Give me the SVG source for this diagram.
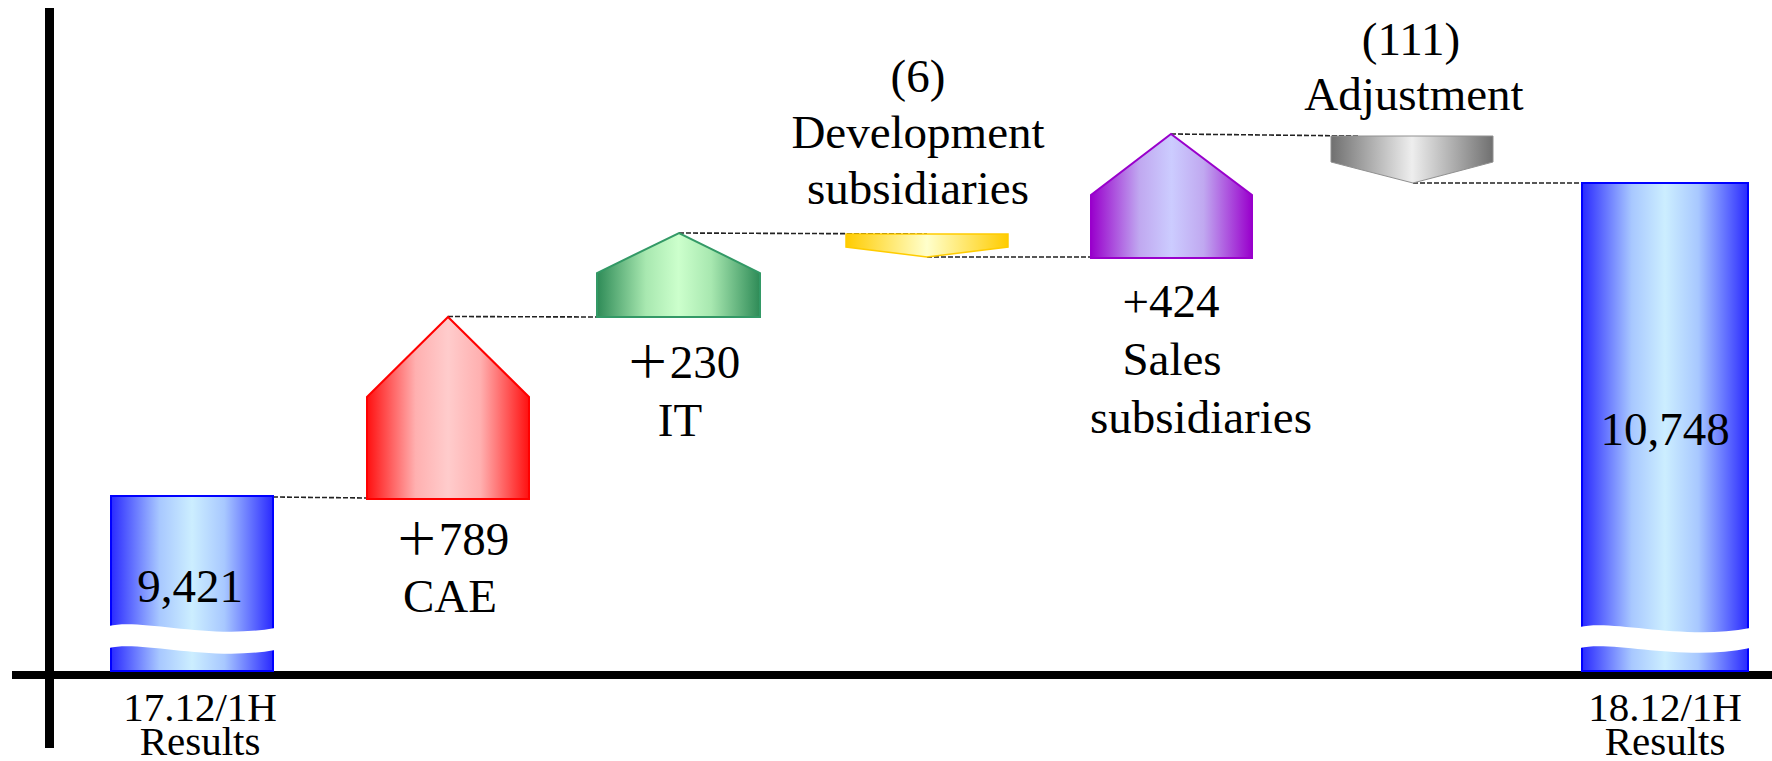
<svg xmlns="http://www.w3.org/2000/svg" width="1772" height="761" viewBox="0 0 1772 761">
<style>
text{font-family:'Liberation Serif','Times New Roman',Tinos,serif;fill:#000;text-anchor:middle}
.lbl{font-size:47px}
.ax{font-size:41px}
.plus{font-family:'Noto Sans CJK JP',sans-serif;font-size:44px}
.dash{stroke:#222;stroke-width:1.6;stroke-dasharray:5 2;fill:none}
</style>
<defs>
<linearGradient id="gBlue" x1="0" y1="0" x2="1" y2="0">
<stop offset="0" stop-color="#2a2aff"/><stop offset="0.3" stop-color="#a8c8ff"/><stop offset="0.5" stop-color="#cceeff"/><stop offset="0.7" stop-color="#a8c8ff"/><stop offset="1" stop-color="#2a2aff"/>
</linearGradient>
<linearGradient id="gRed" x1="0" y1="0" x2="1" y2="0">
<stop offset="0" stop-color="#ff1010"/><stop offset="0.3" stop-color="#ffb0b0"/><stop offset="0.5" stop-color="#ffcccc"/><stop offset="0.7" stop-color="#ffb0b0"/><stop offset="1" stop-color="#ff1010"/>
</linearGradient>
<linearGradient id="gGreen" x1="0" y1="0" x2="1" y2="0">
<stop offset="0" stop-color="#2e8b57"/><stop offset="0.3" stop-color="#a8e8b0"/><stop offset="0.5" stop-color="#ccffcc"/><stop offset="0.7" stop-color="#a8e8b0"/><stop offset="1" stop-color="#2e8b57"/>
</linearGradient>
<linearGradient id="gYellow" x1="0" y1="0" x2="1" y2="0">
<stop offset="0" stop-color="#ffcc00"/><stop offset="0.5" stop-color="#ffffcc"/><stop offset="1" stop-color="#ffcc00"/>
</linearGradient>
<linearGradient id="gPurple" x1="0" y1="0" x2="1" y2="0">
<stop offset="0" stop-color="#9900cc"/><stop offset="0.3" stop-color="#c0a8f0"/><stop offset="0.5" stop-color="#ccccff"/><stop offset="0.7" stop-color="#c0a8f0"/><stop offset="1" stop-color="#9900cc"/>
</linearGradient>
<linearGradient id="gGray" x1="0" y1="0" x2="1" y2="0">
<stop offset="0" stop-color="#707070"/><stop offset="0.5" stop-color="#eeeeee"/><stop offset="1" stop-color="#707070"/>
</linearGradient>
</defs>

<g id="axes">
<rect x="45" y="8" width="9" height="740" fill="#000"/>
<rect x="12" y="671" width="1760" height="8" fill="#000"/>
</g>

<g id="connectors">
<line class="dash" x1="273" y1="497" x2="367" y2="498"/>
<line class="dash" x1="448" y1="316.5" x2="597" y2="317"/>
<line class="dash" x1="679" y1="233" x2="927" y2="234"/>
<line class="dash" x1="927" y1="257" x2="1091" y2="257"/>
<line class="dash" x1="1171" y1="134" x2="1360" y2="136"/>
<line class="dash" x1="1413" y1="183" x2="1582" y2="183"/>
</g>

<g id="start">
<rect x="111" y="496" width="162" height="175" fill="url(#gBlue)" stroke="#0000ff" stroke-width="2"/>
<path d="M109,626 C140,618 210,640 275,628 L275,650 C210,662 140,640 109,648 Z" fill="#fff"/>
<text class="lbl" x="190" y="602" font-family="Liberation Serif">9,421</text>
<text class="ax" x="200" y="721" font-family="Liberation Serif">17.12/1H</text>
<text class="ax" x="200" y="755" font-family="Liberation Serif">Results</text>
</g>

<g id="cae">
<polygon points="367,499 367,397 448,317 529,397 529,499" fill="url(#gRed)" stroke="#ff0000" stroke-width="2"/>
<text class="lbl" x="452" y="555" font-family="Liberation Serif"><tspan class="plus">＋</tspan>789</text>
<text class="lbl" x="450" y="612" font-family="Liberation Serif">CAE</text>
</g>

<g id="it">
<polygon points="597,317 597,273 679,233 760,273 760,317" fill="url(#gGreen)" stroke="#339966" stroke-width="2"/>
<text class="lbl" x="683" y="378" font-family="Liberation Serif"><tspan class="plus">＋</tspan>230</text>
<text class="lbl" x="680" y="436" font-family="Liberation Serif">IT</text>
</g>

<g id="dev">
<polygon points="846,234 1008,234 1008,247 927,257 846,247" fill="url(#gYellow)" stroke="#ffcc00" stroke-width="1.5"/>
<text class="lbl" x="918" y="92" font-family="Liberation Serif">(6)</text>
<text class="lbl" x="918" y="148" font-family="Liberation Serif">Development</text>
<text class="lbl" x="918" y="204" font-family="Liberation Serif">subsidiaries</text>
</g>

<g id="sales">
<polygon points="1091,258 1091,195 1171,134 1252,195 1252,258" fill="url(#gPurple)" stroke="#9900cc" stroke-width="2"/>
<text class="lbl" x="1171" y="317" font-family="Liberation Serif">+424</text>
<text class="lbl" x="1172" y="375" font-family="Liberation Serif">Sales</text>
<text class="lbl" x="1201" y="433" font-family="Liberation Serif">subsidiaries</text>
</g>

<g id="adjust">
<polygon points="1331,136 1493,136 1493,162 1413,183 1331,162" fill="url(#gGray)" stroke="#909090" stroke-width="1"/>
<text class="lbl" x="1411" y="55" font-family="Liberation Serif">(111)</text>
<text class="lbl" x="1414" y="110" font-family="Liberation Serif">Adjustment</text>
</g>

<g id="end">
<rect x="1582" y="183" width="166" height="488" fill="url(#gBlue)" stroke="#0000ff" stroke-width="2"/>
<path d="M1580,627 C1612,619 1684,641 1750,628 L1750,648 C1684,662 1612,640 1580,648 Z" fill="#fff"/>
<text class="lbl" x="1665" y="445" font-family="Liberation Serif">10,748</text>
<text class="ax" x="1665" y="721" font-family="Liberation Serif">18.12/1H</text>
<text class="ax" x="1665" y="755" font-family="Liberation Serif">Results</text>
</g>
</svg>
